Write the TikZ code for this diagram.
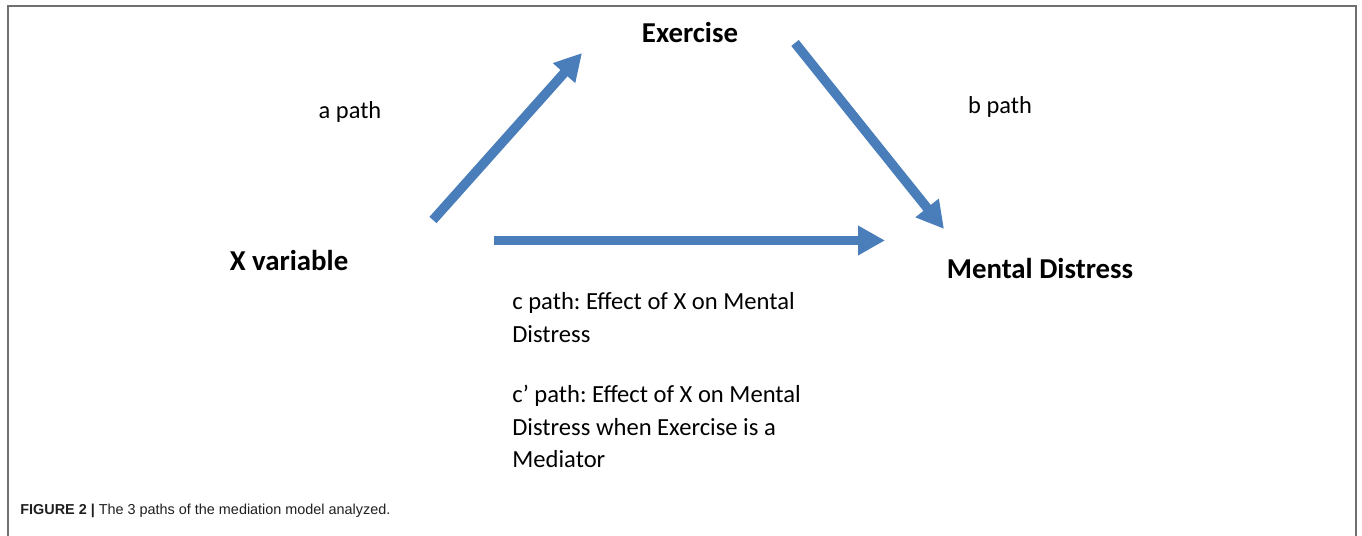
\documentclass[tikz,border=0pt]{standalone}
\usepackage{fontspec}
\setmainfont{Carlito}
\newfontfamily\capfont{Liberation Sans}
\usetikzlibrary{arrows.meta}
\definecolor{pathblue}{RGB}{74,126,187}
\definecolor{framegray}{RGB}{112,112,112}
\frenchspacing

\begin{document}
\begin{tikzpicture}[
      var/.style={
          inner sep=0pt,
          font=\fontsize{16.4}{19}\selectfont\bfseries
      },
      pathlabel/.style={
          inner sep=0pt,
          font=\fontsize{13.9}{18.4}\selectfont
      },
      note/.style={
          inner sep=0pt, anchor=north west, align=left,
          font=\fontsize{14.0}{18.7}\selectfont
      },
      patharrow/.style={-{Triangle[length=0.54cm,width=0.56cm]}, line width=0.19cm, draw=pathblue},
      caption/.style={
          inner sep=0pt, anchor=base west, text=black!88,
          font=\capfont\fontsize{8.2}{10}\selectfont
      }
  ]
  \useasboundingbox (0,0) rectangle (27.24,10.72);

  % frame, open at the bottom
  \draw[framegray, line width=0.04cm] (0.16,0) -- (0.16,10.60) -- (27.12,10.60) -- (27.12,0);

  % variables
  \node[var] (exercise) at (13.80,10.06) {Exercise};
  \node[var] (xvar)     at (5.78,5.50)   {X variable};
  \node[var] (distress) at (20.80,5.34)  {Mental Distress};

  % path labels
  \node[pathlabel] (apath) at (7.00,8.48)  {a path};
  \node[pathlabel] (bpath) at (20.00,8.58) {b path};
  \node[note] (cnote)  at (10.24,4.87) {c path: Effect of X on Mental\\Distress};
  \node[note] (cpnote) at (10.24,3.03) {c’ path: Effect of X on Mental\\Distress when Exercise is a\\Mediator};

  % arrows
  \coordinate (a-tail) at (8.66,6.32);
  \coordinate (a-tip)  at (11.64,9.66);
  \coordinate (b-tail) at (15.90,9.86);
  \coordinate (b-tip)  at (18.88,6.14);
  \coordinate (c-tail) at (9.88,5.91);
  \coordinate (c-tip)  at (17.70,5.91);
  \draw[patharrow] (a-tail) -- (a-tip);
  \draw[patharrow] (b-tail) -- (b-tip);
  \draw[patharrow] (c-tail) -- (c-tip);

  \node[caption] (figcap) at (0.40,0.42)
      {{\bfseries FIGURE 2 |} The 3 paths of the mediation model analyzed.};
\end{tikzpicture}
\end{document}
